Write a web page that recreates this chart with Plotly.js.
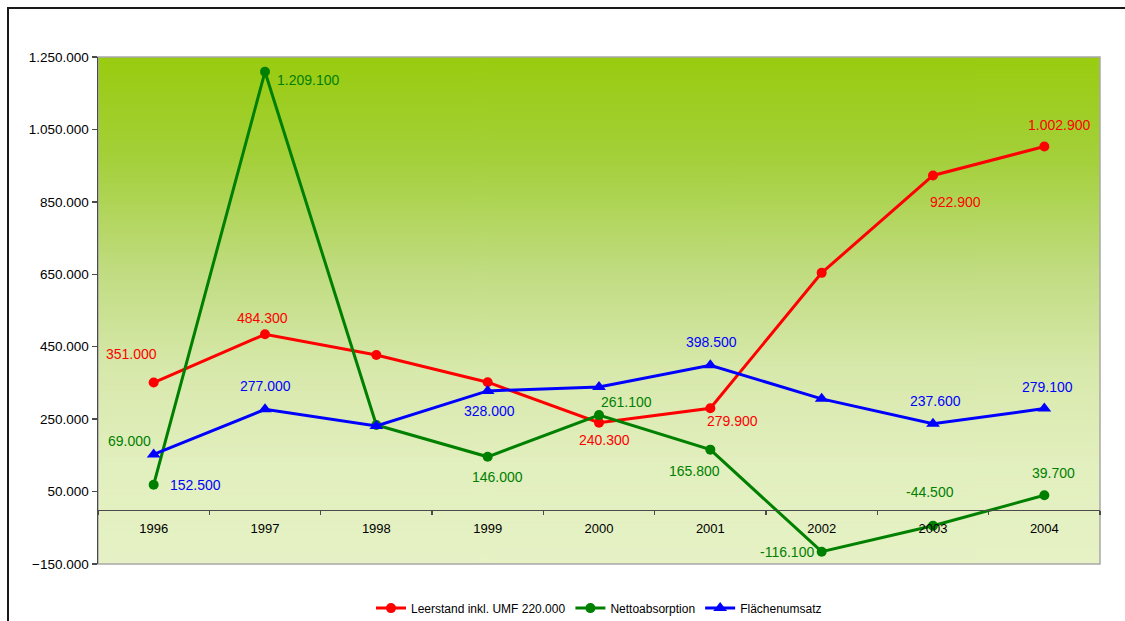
<!DOCTYPE html>
<html>
<head>
<meta charset="utf-8">
<script src="https://cdn.plot.ly/plotly-3.0.1.min.js"></script>
<style>
  html, body { margin: 0; padding: 0; background: #fff; }
  #chart { width: 1125px; height: 621px; position: absolute; left: 0; top: 0; }
  #frame { position: absolute; left: 7px; top: 7px; width: 2000px; height: 2000px;
           border-left: 2px solid #1a1a1a; border-top: 2px solid #1a1a1a; pointer-events: none; }
</style>
</head>
<body>
<div id="chart"></div>
<div id="frame"></div>
<script>
// ---- data ----
const years = ['1996','1997','1998','1999','2000','2001','2002','2003','2004'];
const leerstand = [351000, 484300, 427000, 352000, 240300, 279900, 654000, 922900, 1002900];
const netto = [69000, 1209100, 234000, 146000, 261100, 165800, -116100, -44500, 39700];
const flaeche = [152500, 277000, 231000, 328000, 339000, 398500, 306000, 237600, 279100];
const seriesNames = ['Leerstand inkl. UMF 220.000', 'Nettoabsorption', 'Flächenumsatz'];
// which points carry a visible data label
const leerShown = [true, true, false, false, true, true, false, true, true];
const nettoShown = [true, true, false, true, true, true, true, true, true];
const flaeShown = [true, true, false, true, false, true, false, true, true];

// ---- label offsets (pixels, screen coords: +x right, +y down) ----
const leerOff = [[-22,-29],[-3,-16],[0,0],[0,0],[5,17],[22,13],[0,0],[22,27],[15,-21]];
const nettoOff = [[-24,-44],[43,8],[0,0],[10,20],[27,-13],[-16,21],[-35,0],[-3,-34],[9,-22]];
const flaeOff = [[42,31],[0,-23],[0,0],[2,20],[0,0],[1,-23],[0,0],[2,-23],[3,-22]];

const colors = ['#ff0000', '#008000', '#0000ff'];
const yMin = -150000, yMax = 1250000;

function fmt(v) {
  const s = Math.abs(v).toString().replace(/\B(?=(\d{3})+(?!\d))/g, '.');
  return (v < 0 ? '-' : '') + s;
}

// gradient background image
function gradientURL() {
  const c = document.createElement('canvas');
  c.width = 4; c.height = 512;
  const g = c.getContext('2d');
  const gr = g.createLinearGradient(0, 0, 0, 512);
  gr.addColorStop(0.0, '#99cc0f');
  gr.addColorStop(0.2, '#a4d03a');
  gr.addColorStop(0.42, '#c0dc80');
  gr.addColorStop(0.62, '#d8e9ac');
  gr.addColorStop(0.8, '#e2efbe');
  gr.addColorStop(1.0, '#e6f2c5');
  g.fillStyle = gr;
  g.fillRect(0, 0, 4, 512);
  return c.toDataURL('image/png');
}

const font = '"Liberation Sans", Arial, sans-serif';
const sets = [
  {y: leerstand, shown: leerShown, off: leerOff, sym: 'circle', size: 10},
  {y: netto, shown: nettoShown, off: nettoOff, sym: 'circle', size: 10},
  {y: flaeche, shown: flaeShown, off: flaeOff, sym: 'triangle-up', size: 12}
];

const traces = sets.map((s, i) => ({
  type: 'scatter', mode: 'lines+markers', name: seriesNames[i],
  x: years, y: s.y,
  line: {color: colors[i], width: 3},
  marker: {color: colors[i], size: s.size, symbol: s.sym},
  hoverinfo: 'skip', cliponaxis: false
}));

const annotations = [];
sets.forEach((s, i) => {
  s.y.forEach((v, j) => {
    if (!s.shown[j]) return;
    annotations.push({
      x: j, y: v, xref: 'x', yref: 'y', text: fmt(v), showarrow: false,
      xshift: s.off[j][0], yshift: -s.off[j][1],
      font: {family: font, size: 14, color: colors[i]}
    });
  });
});

const zeroPos = (0 - yMin) / (yMax - yMin);

const layout = {
  width: 1125, height: 621,
  margin: {l: 98, r: 25, t: 57, b: 57, autoexpand: false},
  paper_bgcolor: 'rgba(0,0,0,0)',
  plot_bgcolor: 'rgba(0,0,0,0)',
  separators: ',.',
  font: {family: font, size: 13, color: '#000'},
  showlegend: true,
  legend: {orientation: 'h', x: 0.5, xanchor: 'center', y: -0.087, yanchor: 'middle',
           font: {family: font, size: 12, color: '#000'}, bgcolor: 'rgba(0,0,0,0)',
           traceorder: 'normal', itemwidth: 30},
  xaxis: {type: 'category', categoryorder: 'array', categoryarray: years,
          range: [-0.5, years.length - 0.5], autorange: false,
          anchor: 'free', position: zeroPos,
          showline: true, linecolor: '#4a4a4a', linewidth: 1.5,
          ticks: 'outside', tickson: 'boundaries', ticklen: 4, tickcolor: '#4a4a4a', tickwidth: 1.5,
          ticklabelstandoff: 6, tickangle: 0,
          showgrid: false, zeroline: false, fixedrange: true,
          tickfont: {family: font, size: 13, color: '#000'}},
  yaxis: {range: [yMin, yMax], autorange: false, tick0: yMin, dtick: 200000, tickmode: 'linear',
          tickformat: ',d', showline: true, linecolor: '#4a4a4a', linewidth: 1.5,
          ticks: 'outside', ticklen: 5, tickcolor: '#4a4a4a', tickwidth: 1.5,
          showgrid: false, zeroline: false, fixedrange: true,
          tickfont: {family: font, size: 13.5, color: '#000'}},
  images: [{source: gradientURL(), xref: 'paper', yref: 'paper', x: 0, y: 1,
            sizex: 1, sizey: 1, xanchor: 'left', yanchor: 'top', sizing: 'stretch', layer: 'below'}],
  shapes: [{type: 'rect', xref: 'paper', yref: 'paper', x0: 0, x1: 1, y0: 0, y1: 1,
            line: {color: '#a8a8a8', width: 1.5}, layer: 'below'}],
  annotations: annotations
};

Plotly.newPlot('chart', traces, layout, {displayModeBar: false, staticPlot: true});
</script>
</body>
</html>
